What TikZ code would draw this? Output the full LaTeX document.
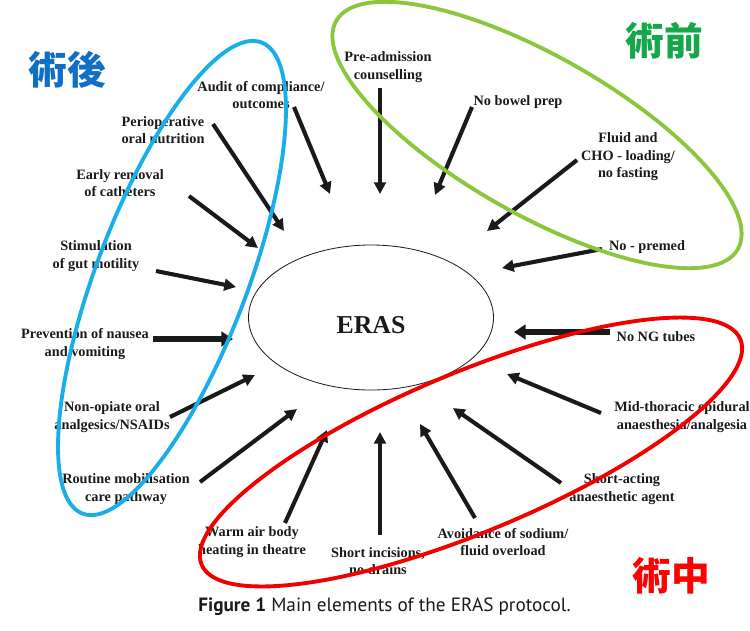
\documentclass[tikz,border=0pt]{standalone}
\usepackage{fontspec}
\setmainfont{Liberation Serif}
\newfontfamily\capfont{PT Sans}
\newfontfamily\cjkfont{Noto Sans CJK JP}
\usepackage{xcolor}
\usetikzlibrary{arrows.meta,shapes.geometric}
\definecolor{erasink}{HTML}{1A1A1A}
\definecolor{postblue}{HTML}{19AEEA}
\definecolor{preegreen}{HTML}{8CC63F}
\definecolor{intrared}{HTML}{F20000}
\definecolor{postlbl}{HTML}{0F6FC6}
\definecolor{prelbl}{HTML}{14A84A}
\definecolor{intralbl}{HTML}{FF0000}

\begin{document}
\begin{tikzpicture}[x=0.03cm,y=-0.03cm,
  item/.style={font=\bfseries\fontsize{12.2}{15}\selectfont,text=erasink,align=center,inner sep=0pt},
  push/.style={draw=erasink,line width=3.5pt,-{Triangle[length=10pt,width=10pt]}},
  heavy/.style={draw=erasink,line width=4.8pt,-{Triangle[length=10pt,width=12.5pt]}},
  core/.style={draw=erasink,ellipse,line width=0.7pt,minimum width=7.35cm,minimum height=4.35cm,inner sep=0pt},
  ring/.style={line width=3.3pt},
  phase/.style={font=\cjkfont\bfseries\fontsize{33}{36}\selectfont,inner sep=0pt}]
\useasboundingbox (0,0) rectangle (750,630);
\node[core] (hub) at (371,317.5) {};
\node[font=\bfseries\fontsize{22}{24}\selectfont,text=erasink,inner sep=0pt] (erastext) at (371,325) {ERAS};
\node[item] (pre) at (388,67) {Pre-admission\\counselling};
\coordinate (pre-a) at (380,88); \coordinate (pre-b) at (380,194);
\draw[push] (pre-a) -- (pre-b);
\node[item] (bowel) at (518,102) {No bowel prep};
\coordinate (bowel-a) at (472,107); \coordinate (bowel-b) at (435,195);
\draw[push] (bowel-a) -- (bowel-b);
\node[item] (fluid) at (628,157) {Fluid and\\CHO - loading/\\no fasting};
\coordinate (fluid-a) at (577,160); \coordinate (fluid-b) at (487,231);
\draw[push] (fluid-a) -- (fluid-b);
\node[item] (premed) at (647,247) {No - premed};
\coordinate (premed-a) at (602,249); \coordinate (premed-b) at (502,268);
\draw[push] (premed-a) -- (premed-b);
\node[item] (ngtube) at (656,337) {No NG tubes};
\coordinate (ngtube-a) at (610,332); \coordinate (ngtube-b) at (514,332);
\draw[heavy] (ngtube-a) -- (ngtube-b);
\node[item] (epidural) at (682,417) {Mid-thoracic epidural\\anaesthesia/analgesia};
\coordinate (epidural-a) at (601,413); \coordinate (epidural-b) at (507,374);
\draw[push] (epidural-a) -- (epidural-b);
\node[item] (shortact) at (622,489) {Short-acting\\anaesthetic agent};
\coordinate (shortact-a) at (561,483); \coordinate (shortact-b) at (453,408);
\draw[push] (shortact-a) -- (shortact-b);
\node[item] (sodium) at (503,542) {Avoidance of sodium/\\fluid overload};
\coordinate (sodium-a) at (475,518); \coordinate (sodium-b) at (420,424);
\draw[push] (sodium-a) -- (sodium-b);
\node[item] (incision) at (378,561) {Short incisions,\\no drains};
\coordinate (incision-a) at (380,535); \coordinate (incision-b) at (380,432);
\draw[push] (incision-a) -- (incision-b);
\node[item] (warmair) at (252,542) {Warm air body\\heating in theatre};
\coordinate (warmair-a) at (285,523); \coordinate (warmair-b) at (327,430);
\draw[push] (warmair-a) -- (warmair-b);
\node[item] (mobil) at (126,489) {Routine mobilisation\\care pathway};
\coordinate (mobil-a) at (200,482); \coordinate (mobil-b) at (297,409);
\draw[push] (mobil-a) -- (mobil-b);
\node[item] (nsaid) at (112,417) {Non-opiate oral\\analgesics/NSAIDs};
\coordinate (nsaid-a) at (170,417); \coordinate (nsaid-b) at (255,375);
\draw[push] (nsaid-a) -- (nsaid-b);
\node[item] (nausea) at (85,344) {Prevention of nausea\\and vomiting};
\coordinate (nausea-a) at (153,339); \coordinate (nausea-b) at (233,339);
\draw[heavy] (nausea-a) -- (nausea-b);
\node[item] (gut) at (96,256) {Stimulation\\of gut motility};
\coordinate (gut-a) at (156,271); \coordinate (gut-b) at (236,287);
\draw[push] (gut-a) -- (gut-b);
\node[item] (catheter) at (120,183) {Early removal\\of catheters};
\coordinate (catheter-a) at (189,196); \coordinate (catheter-b) at (258,248);
\draw[push] (catheter-a) -- (catheter-b);
\node[item] (nutrition) at (163,130) {Perioperative\\oral nutrition};
\coordinate (nutrition-a) at (213,124); \coordinate (nutrition-b) at (284,231);
\draw[push] (nutrition-a) -- (nutrition-b);
\node[item] (audit) at (261,95) {Audit of compliance/\\outcomes};
\coordinate (audit-a) at (294,107); \coordinate (audit-b) at (330,194);
\draw[push] (audit-a) -- (audit-b);
\draw[ring,draw=postblue,rotate around={69.2:(172,278)}] (172,278) ellipse [x radius=252,y radius=75.5];
\draw[ring,draw=preegreen,rotate around={-29.6:(537,135)}] (537,135) ellipse [x radius=231,y radius=79];
\draw[ring,draw=intrared,rotate around={22.7:(471,452)}] (471,452) ellipse [x radius=292,y radius=79.5];
\node[phase,text=postlbl] (post) at (67,70) {術後};
\node[phase,text=prelbl] (prep) at (664,41) {術前};
\node[phase,text=intralbl] (intra) at (671,576) {術中};
\node[font=\capfont\fontsize{16.4}{18}\selectfont,text=erasink,inner sep=0pt] (fig) at (384.5,607) {\textbf{Figure 1} Main elements of the ERAS protocol.};
\end{tikzpicture}
\end{document}
